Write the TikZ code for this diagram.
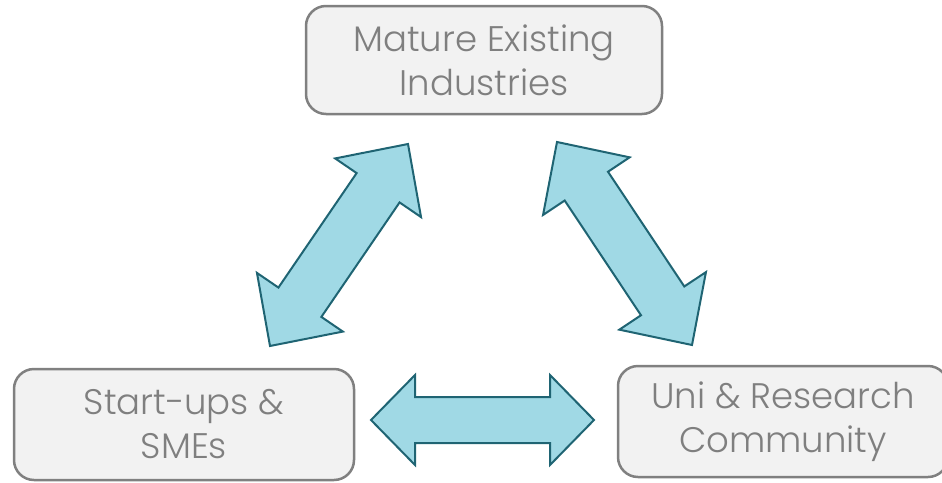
\documentclass[tikz,border=0pt]{standalone}
\usepackage{fontspec}
\setmainfont{Poppins}[UprightFont={* Light}]
\usetikzlibrary{calc}
\definecolor{boxfill}{RGB}{242,242,242}
\definecolor{boxline}{RGB}{128,128,128}
\definecolor{boxtext}{RGB}{127,127,127}
\definecolor{arrowfill}{RGB}{160,217,229}
\definecolor{arrowline}{RGB}{31,100,115}

\tikzset{
  party/.style={draw=boxline, fill=boxfill, line width=2.5pt, rounded corners=20pt,
    text=boxtext, align=center, inner sep=0pt, font=\fontsize{35.5}{44}\selectfont},
  blockarrow/.style={draw=arrowline, fill=arrowfill, line width=2pt, line join=miter}
}

% block arrow from tip #1 to tip #2: head length #3, head half width #4, shaft half width #5
\newcommand{\twoway}[5]{%
  \coordinate (#1-q) at ($(#1)!#3!(#2)$);
  \coordinate (#2-q) at ($(#2)!#3!(#1)$);
  \draw[blockarrow] (#1)
    -- ($(#1-q)!#4!90:(#2)$) -- ($(#1-q)!#5!90:(#2)$)
    -- ($(#2-q)!#5!-90:(#1)$) -- ($(#2-q)!#4!-90:(#1)$)
    -- (#2)
    -- ($(#2-q)!#4!90:(#1)$) -- ($(#2-q)!#5!90:(#1)$)
    -- ($(#1-q)!#5!-90:(#2)$) -- ($(#1-q)!#4!-90:(#2)$)
    -- cycle;}

\begin{document}
\begin{tikzpicture}[x=1pt, y=-1pt]
  \useasboundingbox (0,0) rectangle (942,482);
  % the three partners
  \node[party, minimum width=356pt, minimum height=108pt] (mature) at (484,60) {Mature Existing\\Industries};
  \node[party, minimum width=340pt, minimum height=111pt] (startup) at (184,424.5) {Start-ups \&\\SMEs};
  \node[party, minimum width=330pt, minimum height=111pt] (uni) at (783,421.5) {Uni \& Research\\Community};
  % arrow tips
  \coordinate (lb) at (270,346);
  \coordinate (lt) at (408,144);
  \coordinate (rt) at (557,142);
  \coordinate (rb) at (692,345);
  \coordinate (hl) at (371,420);
  \coordinate (hr) at (594,420);
  % links
  \twoway{lb}{lt}{53pt}{52pt}{26pt}
  \twoway{rt}{rb}{53pt}{52pt}{26pt}
  \twoway{hl}{hr}{44pt}{45pt}{23pt}
\end{tikzpicture}
\end{document}
